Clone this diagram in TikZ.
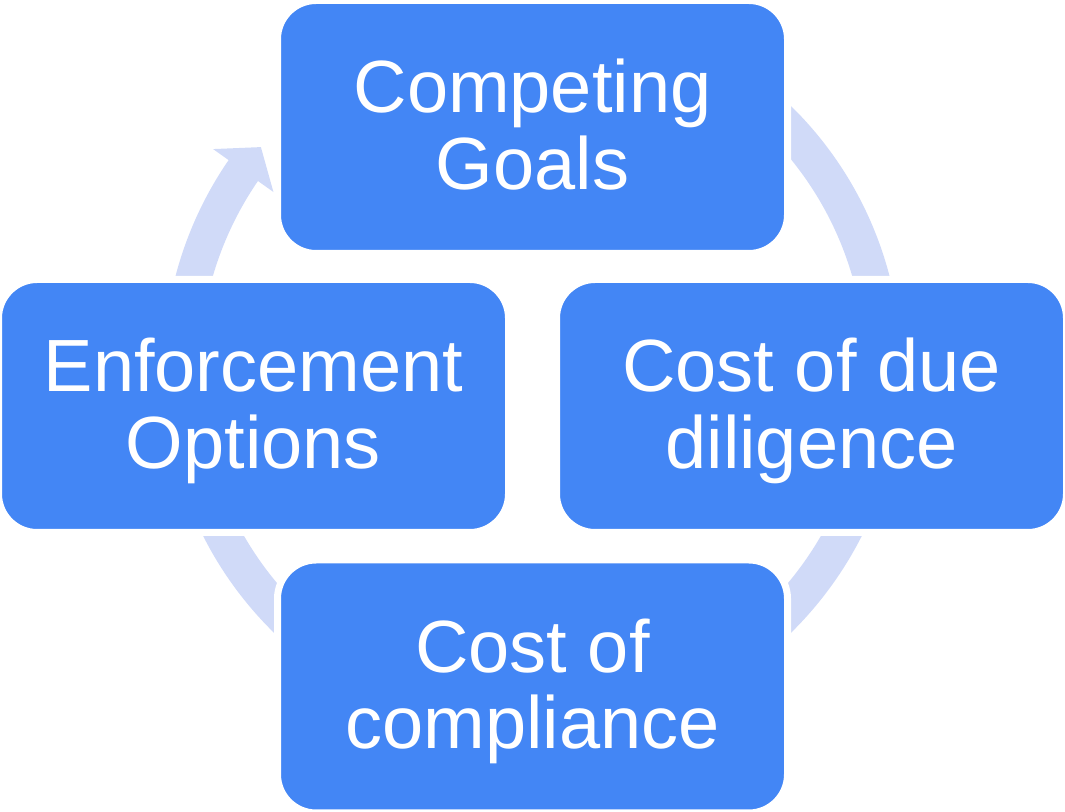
\documentclass[tikz,border=0pt]{standalone}
\usepackage{fontspec}
\setmainfont{Liberation Sans}
\usetikzlibrary{calc}
\definecolor{boxblue}{HTML}{4386F5}
\definecolor{ringblue}{HTML}{D0DAF8}
% two centred lines; the declared height/depth fix where the block sits
% relative to the node centre, whatever letters the lines contain
\newcommand\boxlabel[2]{\raisebox{0pt}[93.75pt][0pt]{\begin{tabular}[b]{@{}c@{}}#1\\#2\end{tabular}}}
\begin{document}
\begin{tikzpicture}[x=0.75pt,y=-0.75pt,
  cyclebox/.style={rectangle, rounded corners=29pt, fill=boxblue, draw=white,
    line width=5.25pt, minimum width=382.5pt, minimum height=189.75pt,
    inner sep=0pt, text=white, font=\fontsize{55.5}{57.75}\selectfont},
  ring/.style={draw=ringblue, line width=27pt},
  ringhead/.style={fill=ringblue}]
\useasboundingbox (0,0) rectangle (1065,812);
\coordinate (ctr) at (532.5,369.4);
% circular arrow running behind the four boxes
\draw[ring] (ctr) ++(-100:351) arc[start angle=-100, end angle=214.7, radius=351];
\fill[ringhead] ($(ctr)+(214.6:388)$) -- ($(ctr)+(219.3:351)$)
  -- ($(ctr)+(214.4:314)$) -- cycle;
% the four stages
\node[cyclebox] (goals) at (532.5,127) {\boxlabel{Competing}{Goals}};
\node[cyclebox] (diligence) at (811.5,406) {\boxlabel{Cost of due}{diligence}};
\node[cyclebox] (compliance) at (532.5,686.5) {\boxlabel{Cost of}{compliance}};
\node[cyclebox] (enforcement) at (253.5,406) {\boxlabel{Enforcement}{Options}};
\end{tikzpicture}
\end{document}
